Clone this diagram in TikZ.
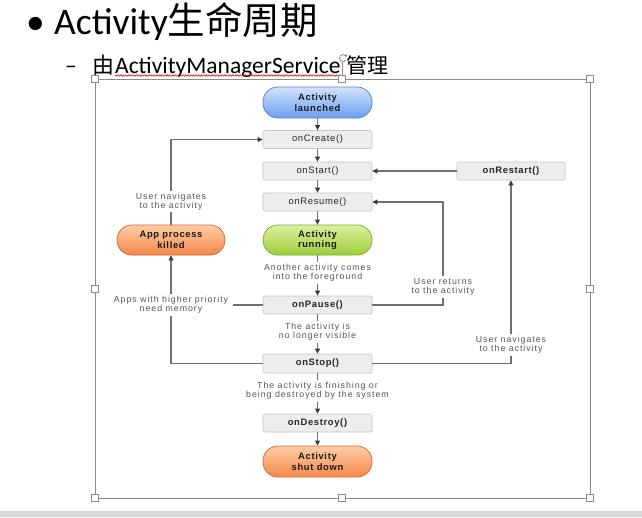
\documentclass[tikz,border=0pt]{standalone}
\usepackage{fontspec}
\setmainfont{Carlito}
\newfontfamily\cjk{Noto Sans CJK SC}
\newfontfamily\dia{Liberation Sans}[LetterSpace=7]
\newfontfamily\dial{Liberation Sans}[LetterSpace=11]
\usetikzlibrary{arrows.meta,decorations.pathmorphing}
\definecolor{boxfill}{HTML}{EDEDED}
\definecolor{boxborder}{HTML}{C6C6C6}
\definecolor{linegray}{HTML}{707070}
\definecolor{arrowdark}{HTML}{3A3A3A}
\definecolor{labelgray}{HTML}{555555}
\definecolor{bluetop}{HTML}{D2E3FC}
\definecolor{bluebot}{HTML}{6A9FF0}
\definecolor{blueedge}{HTML}{5A86CC}
\definecolor{greentop}{HTML}{DCF0A0}
\definecolor{greenbot}{HTML}{9ECD3A}
\definecolor{greenedge}{HTML}{7FAE30}
\definecolor{orangetop}{HTML}{FFCDA6}
\definecolor{orangebot}{HTML}{F4874A}
\definecolor{orangeedge}{HTML}{D46C36}
\definecolor{framegray}{HTML}{8C8C8C}
\definecolor{bargray}{HTML}{D9D9D9}
\tikzset{
  box/.style={draw=boxborder, fill=boxfill, rounded corners=1.5pt, line width=0.7pt,
    minimum width=109pt, minimum height=18pt, inner sep=0pt,
    font=\dia\fontsize{9.4}{10}\selectfont, text=black!85},
  boxb/.style={box, font=\dia\bfseries\fontsize{9.4}{10}\selectfont},
  pill/.style={rounded corners=15pt, minimum width=109pt, minimum height=31pt,
    inner sep=0pt, align=center, line width=0.8pt,
    font=\dia\bfseries\fontsize{9.4}{10.6}\selectfont, text=black!90},
  bluepill/.style={pill, draw=blueedge, top color=bluetop, bottom color=bluebot},
  greenpill/.style={pill, draw=greenedge, top color=greentop, bottom color=greenbot},
  orangepill/.style={pill, draw=orangeedge, top color=orangetop, bottom color=orangebot},
  lbl/.style={align=center, font=\dial\fontsize{8.8}{9.2}\selectfont, text=labelgray, inner sep=2pt},
  conn/.style={draw=linegray, line width=1.3pt},
  arr/.style={conn, -{Triangle[length=5pt,width=4.8pt,color=arrowdark]}},
  handle/.style={draw=framegray, fill=white, line width=0.6pt},
  slide/.style={inner sep=0pt, anchor=base west}
}
\begin{document}
\begin{tikzpicture}[x=1pt,y=-1pt]
\useasboundingbox (0,0) rectangle (642,517);
\fill[white] (0,0) rectangle (642,517);
\fill[bargray] (0,511) rectangle (642,517);

% slide text
\node[slide, font=\fontsize{37.5}{40}\selectfont] (bullet) at (26,34) {•};
\node[slide, font=\fontsize{37.5}{40}\selectfont] (title) at (54,34) {Activity{\cjk 生命周期}};
\node[slide, font=\fontsize{23.5}{26}\selectfont] (dash) at (65,73) {–};
\node[slide, font=\fontsize{22}{26}\selectfont\cjk] (you) at (92,73) {由};
\node[slide, font=\fontsize{23.5}{26}\selectfont] (ams) at (115,73) {ActivityManagerService};
\node[slide, font=\fontsize{21}{26}\selectfont\cjk] (guanli) at (346,73) {管理};
\draw[red!85!black, line width=0.5pt, decorate, decoration={zigzag, segment length=2.6pt, amplitude=0.8pt}]
  (ams.base west) ++(0,2.5) coordinate (ul1) -- (ams.base east |- ul1);

% selection frame
\draw[framegray, line width=0.7pt] (95,79) rectangle (590,498);
\draw[framegray, line width=0.7pt] (342,62) -- (342,76);
\draw[framegray, line width=0.8pt, -{Straight Barb[length=1.5pt]}] (343,58) ++(40:3.5) arc (40:340:3.5);
\foreach \hx/\hy in {95/79,342/79,590/79,95/289,590/289,95/498,342/498,590/498}
  \draw[handle] (\hx-3.5,\hy-3.5) rectangle (\hx+3.5,\hy+3.5);

% diagram nodes
\node[bluepill] (launched) at (317.5,102.5) {Activity\\launched};
\node[box] (create) at (317.5,139.5) {onCreate()};
\node[box] (start) at (317.5,171) {onStart()};
\node[box] (resume) at (317.5,202) {onResume()};
\node[greenpill, minimum height=30pt] (running) at (317.5,240) {Activity\\running};
\node[orangepill, minimum width=108pt, minimum height=30pt] (killed) at (171,240) {App process\\killed};
\node[lbl] (fg) at (317.5,273) {Another activity comes\\into the foreground};
\node[boxb] (pause) at (317.5,305) {onPause()};
\node[lbl] (invis) at (317.5,332) {The activity is\\no longer visible};
\node[boxb, minimum height=19pt] (stop) at (317.5,363.5) {onStop()};
\node[lbl] (destroyed) at (317.5,391) {The activity is finishing or\\being destroyed by the system};
\node[boxb] (destroy) at (317.5,423) {onDestroy()};
\node[orangepill] (shut) at (317.5,461.5) {Activity\\shut down};
\node[boxb, minimum width=108pt] (restart) at (511,171) {onRestart()};
\node[lbl] (nav1) at (171,201.5) {User navigates\\to the activity};
\node[lbl, inner xsep=5pt] (mem) at (171,305) {Apps with higher priority\\need memory};
\node[lbl] (ret) at (443,287) {User returns\\to the activity};
\node[lbl] (nav2) at (511,345) {User navigates\\to the activity};

% connectors
\draw[arr] (launched) -- (create);
\draw[arr] (create) -- (start);
\draw[arr] (start) -- (resume);
\draw[arr] (resume) -- (running);
\draw[conn] (running) -- (fg);
\draw[arr] (fg) -- (pause);
\draw[conn] (pause) -- (invis);
\draw[arr] (invis) -- (stop);
\draw[conn] (stop) -- (destroyed);
\draw[arr] (destroyed) -- (destroy);
\draw[arr] (destroy) -- (shut);
\draw[arr] (restart) -- (start);
\draw[conn] (killed) -- (nav1);
\draw[arr] (nav1.north) |- (create.west);
\draw[conn] (pause.west) -- (mem.east);
\draw[conn] (stop.west) -| (mem.south);
\draw[arr] (mem.north) -- (killed.south);
\draw[conn] (pause.east) -| (ret.south);
\draw[arr] (ret.north) |- (resume.east);
\draw[conn] (stop.east) -| (nav2.south);
\draw[arr] (nav2.north) -- (restart.south);
\end{tikzpicture}
\end{document}
